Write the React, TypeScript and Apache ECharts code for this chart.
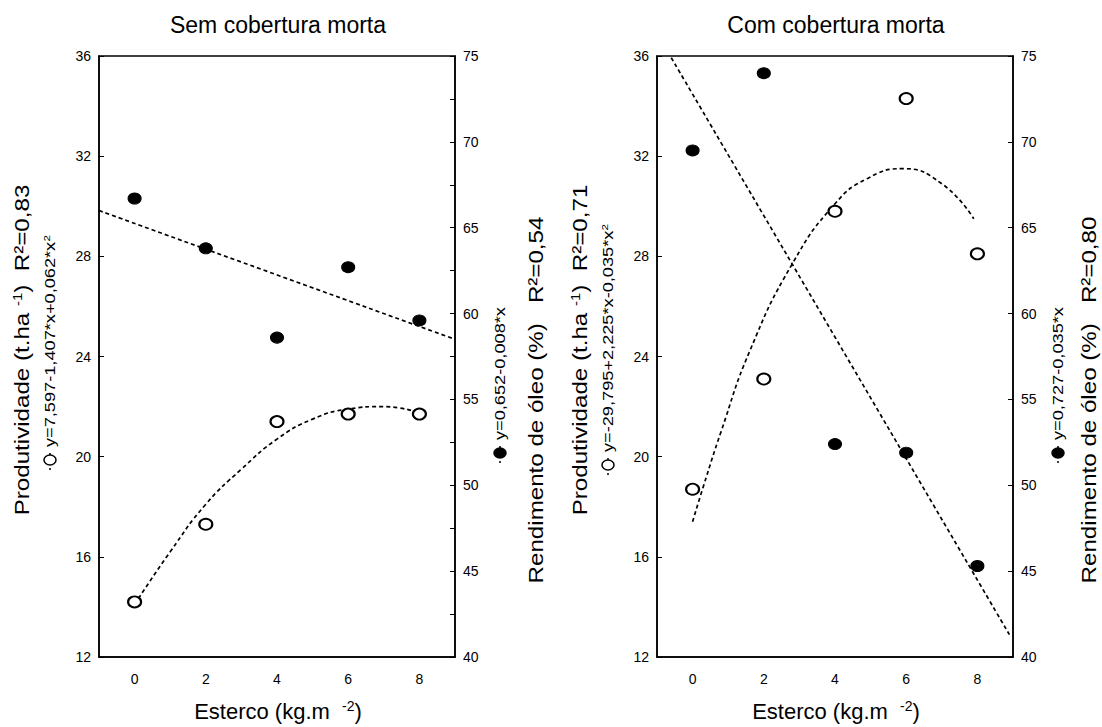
import React, { useEffect, useRef } from "react";
import * as echarts from "echarts";

// ---------- data ----------
const xTicks = [0, 2, 4, 6, 8];
const doses = [0, 2, 4, 6, 8];

// Sem cobertura morta
const semProd = [14.2, 17.3, 21.4, 21.7, 21.7]; // open circles, left axis
const semOleo = [66.7, 63.8, 58.6, 62.7, 59.6]; // filled circles, right axis
const semProdFitX = [0, 1, 2, 3, 4, 5, 6, 7, 8];
const semProdFitY = [14.1, 16.2, 18.1, 19.5, 20.7, 21.5, 21.9, 22.0, 21.75];
const semOleoFitX = [-1, 9];
const semOleoFitY = [66.0, 58.5];

// Com cobertura morta
const comProd = [18.7, 23.1, 29.8, 34.3, 28.1];
const comOleo = [69.5, 74.0, 52.4, 51.9, 45.3];
const comProdFitX = [0, 0.3, 0.8, 1.6, 2.8, 4, 4.9, 5.9, 7, 7.9];
const comProdFitY = [17.4, 18.8, 21.0, 24.2, 27.7, 30.1, 31.1, 31.5, 30.9, 29.5];
const comOleoFitX = [-0.6, 8.9];
const comOleoFitY = [74.9, 41.3];

const FONT = "Liberation Sans, Arial, sans-serif";

const pairs = (xs: number[], ys: number[]) => xs.map((x, i) => [x, ys[i]]);

const supRich = (size: number) => ({
  sup: {
    fontSize: Math.round(size * 0.62),
    verticalAlign: "top",
    fontFamily: FONT,
    fill: "#000",
    padding: [0, 0, Math.round(size * 0.45), 0],
  },
});

function makeXAxis(gridIndex: number) {
  return {
    type: "value",
    gridIndex,
    min: -1,
    max: 9,
    axisLine: { show: true, onZero: false, lineStyle: { color: "#000", width: 1.5 } },
    axisTick: { show: false },
    splitLine: { show: false },
    axisLabel: {
      customValues: xTicks,
      color: "#000",
      fontSize: 14,
      fontFamily: FONT,
      margin: 15,
    },
  };
}

function makeLeftY(gridIndex: number) {
  return {
    type: "value",
    gridIndex,
    position: "left",
    min: 12,
    max: 36,
    interval: 4,
    axisLine: { show: true, onZero: false, lineStyle: { color: "#000", width: 1.5 } },
    axisTick: { show: true, inside: true, length: 5, lineStyle: { color: "#000" } },
    splitLine: { show: false },
    axisLabel: { color: "#000", fontSize: 14, fontFamily: FONT, margin: 8 },
  };
}

function makeRightY(gridIndex: number, minor: boolean) {
  return {
    type: "value",
    gridIndex,
    position: "right",
    min: 40,
    max: 75,
    interval: 5,
    axisLine: { show: true, onZero: false, lineStyle: { color: "#000", width: 1.5 } },
    axisTick: { show: true, inside: true, length: 5, lineStyle: { color: "#000" } },
    minorTick: { show: minor, splitNumber: 2, length: 5, lineStyle: { color: "#000" } },
    splitLine: { show: false },
    minorSplitLine: { show: false },
    axisLabel: { color: "#000", fontSize: 14, fontFamily: FONT, margin: 8 },
  };
}

const dashed = { color: "#000", width: 1.7, type: [4, 3] };

function fitLine(xi: number, yi: number, data: number[][]) {
  return {
    type: "line",
    xAxisIndex: xi,
    yAxisIndex: yi,
    data,
    smooth: true,
    showSymbol: false,
    symbol: "none",
    lineStyle: dashed,
    z: 2,
    silent: true,
  };
}

function scatter(xi: number, yi: number, ys: number[], filled: boolean) {
  return {
    type: "scatter",
    xAxisIndex: xi,
    yAxisIndex: yi,
    data: doses.map((d, i) => [d, ys[i]]),
    symbol: "circle",
    symbolSize: [13, 11],
    itemStyle: filled
      ? { color: "#000", borderColor: "#000", borderWidth: 1, opacity: 1 }
      : { color: "#fff", borderColor: "#000", borderWidth: 2, opacity: 1 },
    z: 3,
  };
}

function vText(x: number, y: number, text: string, fontSize: number) {
  return {
    type: "text",
    x,
    y,
    rotation: Math.PI / 2,
    scaleX: 1.15,
    style: {
      text,
      fontSize,
      fontFamily: FONT,
      fill: "#000",
      align: "center",
      verticalAlign: "middle",
      rich: supRich(fontSize),
    },
  };
}

function legendItem(x: number, y: number, text: string, filled: boolean) {
  return {
    type: "group",
    x,
    y,
    rotation: Math.PI / 2,
    children: [
      {
        type: "line",
        shape: { x1: -10, y1: 0, x2: 10, y2: 0 },
        style: { stroke: "#000", lineWidth: 1.5, lineDash: [2, 3] },
      },
      {
        type: "ellipse",
        shape: { cx: 0, cy: 0, rx: 5, ry: 6 },
        style: { fill: filled ? "#000" : "#fff", stroke: "#000", lineWidth: 1.5 },
      },
      {
        type: "text",
        x: 13,
        y: 0,
        scaleX: 1.3,
        style: {
          text,
          fontSize: 14,
          fontFamily: FONT,
          fill: "#000",
          align: "left",
          verticalAlign: "middle",
          rich: supRich(14),
        },
      },
    ],
  };
}

function hText(x: number, y: number, text: string, fontSize: number) {
  return {
    type: "text",
    x,
    y,
    style: {
      text,
      fontSize,
      fontFamily: FONT,
      fill: "#000",
      align: "center",
      verticalAlign: "middle",
      rich: supRich(fontSize),
    },
  };
}

export default function App() {
  const ref = useRef<HTMLDivElement>(null);

  useEffect(() => {
    document.body.style.margin = "0";
    if (!ref.current) return;
    const chart = echarts.init(ref.current, undefined, { renderer: "svg" });
    const option: any = {
      animation: false,
      backgroundColor: "#fff",
      grid: [
        { left: 99, top: 56, width: 356, height: 601, show: true, borderColor: "#000", borderWidth: 1.5, backgroundColor: "transparent" },
        { left: 657, top: 56, width: 356, height: 601, show: true, borderColor: "#000", borderWidth: 1.5, backgroundColor: "transparent" },
      ],
      xAxis: [makeXAxis(0), makeXAxis(1)],
      yAxis: [makeLeftY(0), makeRightY(0, true), makeLeftY(1), makeRightY(1, false)],
      series: [
        fitLine(0, 0, pairs(semProdFitX, semProdFitY)),
        fitLine(0, 1, pairs(semOleoFitX, semOleoFitY)),
        scatter(0, 0, semProd, false),
        scatter(0, 1, semOleo, true),
        fitLine(1, 2, pairs(comProdFitX, comProdFitY)),
        fitLine(1, 3, pairs(comOleoFitX, comOleoFitY)),
        scatter(1, 2, comProd, false),
        scatter(1, 3, comOleo, true),
      ],
      graphic: [
        hText(278, 25, "Sem cobertura morta", 23),
        hText(836, 25, "Com cobertura morta", 23),
        hText(278, 711, "Esterco (kg.m  {sup|-2})", 22),
        hText(836, 711, "Esterco (kg.m  {sup|-2})", 22),
        vText(22, 350, "Produtividade (t.ha {sup|-1})  R²=0,83", 21),
        legendItem(50, 460, "y=7,597-1,407*x+0,062*x{sup|2}", false),
        vText(536, 400, "Rendimento de óleo (%)   R²=0,54", 21),
        legendItem(500, 453, "y=0,652-0,008*x", true),
        vText(580, 350, "Produtividade (t.ha {sup|-1})  R²=0,71", 21),
        legendItem(608, 465, "y=-29,795+2,225*x-0,035*x{sup|2}", false),
        vText(1089, 400, "Rendimento de óleo (%)   R²=0,80", 21),
        legendItem(1058, 453, "y=0,727-0,035*x", true),
      ],
    };
    chart.setOption(option);
    return () => chart.dispose();
  }, []);

  return <div ref={ref} style={{ width: 1102, height: 727 }} />;
}
